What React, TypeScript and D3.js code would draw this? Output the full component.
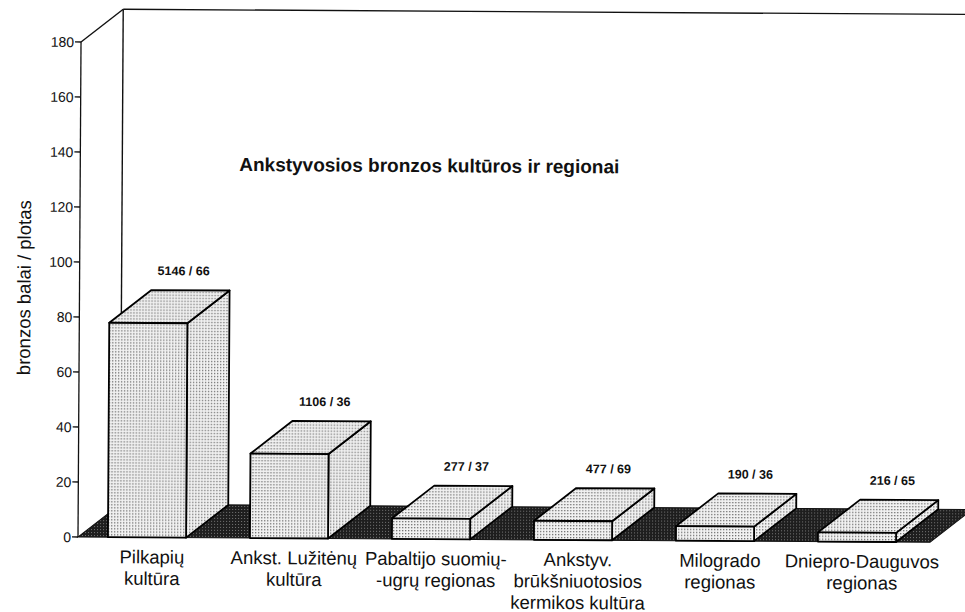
import * as d3 from "d3";

const categories = [
  ["Pilkapių", "kultūra"],
  ["Ankst. Lužitėnų", "kultūra"],
  ["Pabaltijo suomių-", "-ugrų regionas"],
  ["Ankstyv.", "brūkšniuotosios", "kermikos kultūra"],
  ["Milogrado", "regionas"],
  ["Dniepro-Dauguvos", "regionas"],
];
// bronze finds and area, as printed above the bars
const bronzeCounts = [5146, 1106, 277, 477, 190, 216];
const areas = [66, 36, 37, 69, 36, 65];
const yTicks = [0, 20, 40, 60, 80, 100, 120, 140, 160, 180];

const title = "Ankstyvosios bronzos kultūros ir regionai";
const yTitle = "bronzos balai / plotas";

function App() {
  const width = 965;
  const height = 612;
  const axisX = 78;
  const floorEnd = 930;
  const depthX = 42;
  const depthY = 33;
  const font = "'Liberation Sans', Arial, sans-serif";

  const y = d3.scaleLinear().domain([0, 180]).range([537, 42]);
  const x = d3
    .scaleBand()
    .domain(categories.map((_, i) => String(i)))
    .range([axisX - 2, floorEnd - 2])
    .paddingInner(0.45)
    .paddingOuter(0.225);
  const bw = x.bandwidth();

  const data = bronzeCounts.map((c, i) => ({
    i,
    label: `${c} / ${areas[i]}`,
    value: c / areas[i],
  }));

  const pts = (p: number[][]) => p.map((d) => d.join(",")).join(" ");
  const y0 = y(0);

  return (
    <svg
      width={width}
      height={height}
      style={{ position: "fixed", left: 0, top: 0, background: "#fff" }}
      fontFamily={font}
    >
      <defs>
        <pattern id="dots" width={3} height={3} patternUnits="userSpaceOnUse">
          <rect width={3} height={3} fill="#f2f2f2" />
          <rect x={0} y={0} width={1.3} height={1.3} fill="#6e6e6e" />
        </pattern>
        <pattern id="dark" width={3} height={3} patternUnits="userSpaceOnUse">
          <rect width={3} height={3} fill="#1e1e1e" />
          <rect x={1} y={1} width={1} height={1} fill="#777" />
        </pattern>
      </defs>
      <g transform={`rotate(0.35 ${axisX} ${y0})`}>
        {/* back wall edges */}
        <g stroke="#111" strokeWidth={1.4} fill="none">
          <line x1={axisX} y1={y(180)} x2={axisX + depthX} y2={y(180) - depthY} />
          <line x1={axisX + depthX} y1={y(180) - depthY} x2={width + 10} y2={y(180) - depthY} />
          <line x1={axisX + depthX} y1={y(180) - depthY} x2={axisX + depthX} y2={y0 - depthY} />
        </g>

        {/* floor */}
        <polygon
          points={pts([
            [axisX, y0],
            [floorEnd, y0],
            [floorEnd + depthX, y0 - depthY],
            [axisX + depthX, y0 - depthY],
          ])}
          fill="url(#dark)"
          stroke="#111"
          strokeWidth={1}
        />

        {/* y axis */}
        <g stroke="#111" strokeWidth={1.3}>
          <line x1={axisX} y1={y(0)} x2={axisX} y2={y(180)} />
          {yTicks.map((t) => (
            <line key={t} x1={axisX - 6} y1={y(t)} x2={axisX} y2={y(t)} />
          ))}
        </g>
        <g fontSize={14} textAnchor="end" fill="#111">
          {yTicks.map((t) => (
            <text key={t} x={axisX - 7} y={y(t) + 5}>
              {t}
            </text>
          ))}
        </g>
        <text
          transform={`translate(29, 288) rotate(-90)`}
          textAnchor="middle"
          fontSize={18.5}
          fill="#111"
        >
          {yTitle}
        </text>

        {/* bars */}
        {data.map((d) => {
          const x0 = x(String(d.i)) as number;
          const x1 = x0 + bw;
          const yt = y(d.value);
          return (
            <g key={d.i} stroke="#000" strokeWidth={1.8} strokeLinejoin="round">
              <polygon
                points={pts([
                  [x1, yt],
                  [x1 + depthX, yt - depthY],
                  [x1 + depthX, y0 - depthY],
                  [x1, y0],
                ])}
                fill="url(#dots)"
              />
              <polygon
                points={pts([
                  [x0, yt],
                  [x0 + depthX, yt - depthY],
                  [x1 + depthX, yt - depthY],
                  [x1, yt],
                ])}
                fill="url(#dots)"
              />
              <rect x={x0} y={yt} width={bw} height={y0 - yt} fill="url(#dots)" />
            </g>
          );
        })}

        {/* value labels */}
        <g fontSize={12.5} fontWeight="bold" textAnchor="middle" fill="#111">
          {data.map((d) => {
            const x0 = x(String(d.i)) as number;
            return (
              <text key={d.i} x={x0 + bw / 2 + 35} y={y(d.value) - depthY - 15}>
                {d.label}
              </text>
            );
          })}
        </g>

        {/* category labels */}
        <g fontSize={18.5} textAnchor="middle" fill="#111">
          {categories.map((lines, i) => {
            const cx = (x(String(i)) as number) + bw / 2 + 5;
            return (
              <text key={i} x={cx} y={563}>
                {lines.map((l, j) => (
                  <tspan key={j} x={cx} dy={j === 0 ? 0 : 21.5}>
                    {l}
                  </tspan>
                ))}
              </text>
            );
          })}
        </g>

        <text x={237} y={170} fontSize={19} fontWeight="bold" fill="#111">
          {title}
        </text>
      </g>
    </svg>
  );
}

export default App;
